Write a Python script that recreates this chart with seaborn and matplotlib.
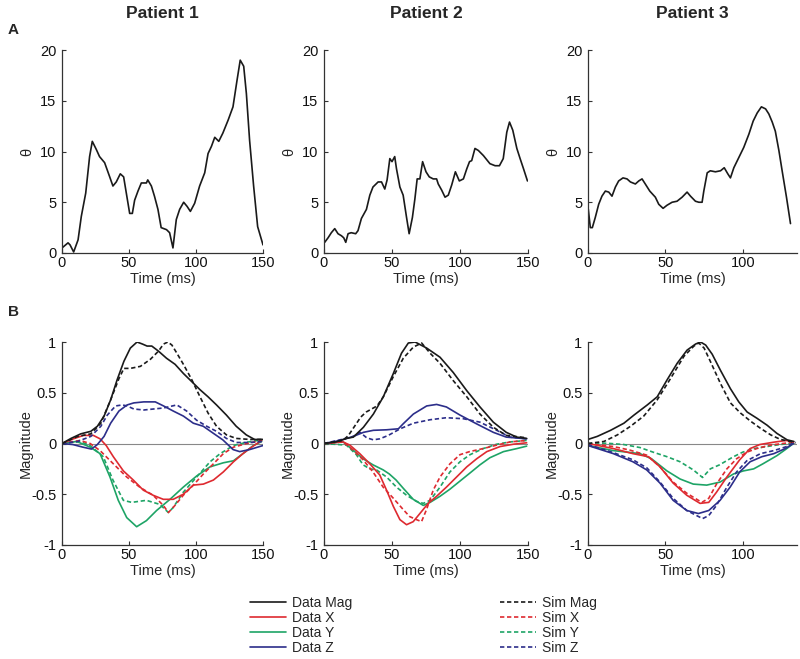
import numpy as np
import pandas as pd
import matplotlib
matplotlib.use("Agg")
import matplotlib.pyplot as plt
import seaborn as sns
from matplotlib.lines import Line2D

# ---------------- DATA ----------------
patients = ["Patient 1", "Patient 2", "Patient 3"]

# Row A : theta vs time
p1_theta_t = [0, 4.5, 6, 8.7, 12, 14.4, 17.7, 20.6, 22.6, 25.6, 28, 31.8, 35.6, 38, 40.5, 43.5, 46, 48,
              50.5, 52.5, 54.2, 56.7, 59.2, 63, 64, 66.7, 69, 71.6, 74, 78, 80.3, 82.8, 85.3, 87.8, 90.8,
              93.3, 95.8, 99, 102.7, 106.5, 109, 111.5, 114, 117, 120, 124, 127.6, 130.6, 133, 135.6,
              137.6, 140, 143, 146, 150]
p1_theta = [0.5, 1.0, 0.8, 0.1, 1.3, 3.6, 5.9, 9.5, 11, 10.2, 9.5, 8.9, 7.5, 6.6, 7, 7.8, 7.5, 5.9,
            3.9, 3.9, 5.2, 6.1, 6.9, 6.9, 7.2, 6.6, 5.6, 4.3, 2.5, 2.3, 2.0, 0.5, 3.3, 4.3, 5.0,
            4.6, 4.1, 4.9, 6.6, 7.9, 9.8, 10.5, 11.4, 11, 11.8, 13.1, 14.4, 17, 19, 18.4,
            15.7, 11.1, 6.6, 2.6, 0.8]

p2_theta_t = [0.5, 3, 5.4, 7.9, 10.3, 12.8, 14.5, 16, 17.7, 20, 23.3, 25, 27.5, 31.2, 33.7, 36, 39.8,
              42.3, 44.7, 46.4, 48.4, 50, 52, 53.3, 55.8, 58.2, 60.7, 62.6, 65, 66.8, 68.5, 70.5, 72.5,
              75, 77.4, 80.3, 82.8, 84, 86.5, 89, 91.4, 93.9, 96.6, 99.5, 102.5, 105, 107, 108.6, 111,
              113.5, 117.2, 122, 125.8, 129, 131.8, 134.4, 136.4, 138.8, 141.8, 144.2, 146.7, 149.6]
p2_theta = [1.05, 1.5, 2.0, 2.4, 1.9, 1.7, 1.5, 1.05, 1.9, 2.0, 1.9, 2.2, 3.4, 4.3, 5.7, 6.5, 7.0,
            7.0, 6.3, 7.2, 9.3, 9.0, 9.5, 8.3, 6.5, 5.7, 3.5, 1.9, 3.5, 5.3, 7.3, 7.3, 9.0,
            8.0, 7.5, 7.3, 7.3, 6.8, 6.2, 5.5, 5.7, 6.7, 8.0, 7.1, 7.3, 8.3, 9.0, 9.1, 10.3,
            10.1, 9.6, 8.8, 8.6, 8.6, 9.3, 11.9, 12.9, 12.1, 10.3, 9.3, 8.3, 7.1]

p3_theta_t = [0.2, 1.5, 2.8, 4.7, 6.9, 9, 11.2, 13.4, 15.5, 17.7, 19.8, 22.6, 25.2, 27.4, 30.6, 32.8,
              34.9, 37, 39.9, 43.5, 45.7, 48.5, 51, 54.3, 57.5, 60.8, 64, 66.2, 69.4, 71.6, 73.7, 74.8,
              77, 79, 82.3, 85.6, 88, 90.3, 92, 94.2, 97.4, 100.6, 103.9, 106.7, 109.3, 112, 114.7,
              116.8, 119, 121, 123.3, 125.4, 128.2, 130.8]
p3_theta = [4.3, 2.5, 2.5, 3.5, 4.8, 5.6, 6.1, 6.0, 5.6, 6.5, 7.1, 7.4, 7.3, 7.0, 6.8, 7.1,
            7.3, 6.8, 6.1, 5.5, 4.8, 4.4, 4.7, 5.0, 5.1, 5.5, 6.0, 5.6, 5.1, 5.0, 5.0, 6.1,
            7.9, 8.1, 8.0, 8.1, 8.4, 7.8, 7.4, 8.4, 9.4, 10.4, 11.7, 13.0, 13.8, 14.4, 14.2,
            13.7, 12.9, 12.0, 10.1, 8.1, 5.5, 2.9]

# Row B : magnitude components, patient 1
p1_dmag_t = [0, 6.7, 14, 21.5, 26.4, 31.4, 36.3, 41.2, 46.2, 51, 56, 60, 63.5, 67, 72, 78, 84.4, 90.6,
             96.8, 103, 109, 115.3, 122.7, 130, 137.5, 143.7, 150]
p1_dmag = [0, 0.05, 0.095, 0.12, 0.17, 0.27, 0.43, 0.63, 0.81, 0.94, 1.0, 0.98, 0.96, 0.96, 0.91, 0.84,
           0.78, 0.69, 0.61, 0.53, 0.46, 0.38, 0.28, 0.17, 0.085, 0.04, 0.04]
p1_smag_t = [0, 11.6, 21.5, 29, 36.3, 42.5, 46.2, 51, 58.5, 66, 72, 75.8, 79, 82, 85.7, 90.6, 96.8, 103,
             109, 115.3, 122.7, 130, 140, 150]
p1_smag = [0, 0.07, 0.095, 0.2, 0.43, 0.64, 0.74, 0.74, 0.76, 0.83, 0.91, 0.98, 1.0, 0.97, 0.89, 0.78,
           0.63, 0.46, 0.30, 0.17, 0.085, 0.05, 0.04, 0.04]
p1_dx_t = [0, 8.5, 16, 23.4, 28.4, 33, 38.3, 45.8, 53.2, 60.7, 68, 75.6, 83, 90.5, 98, 105.5, 113, 120.4,
           128, 135, 141.5, 149]
p1_dx = [0, 0.046, 0.08, 0.08, 0.046, -0.02, -0.13, -0.27, -0.36, -0.46, -0.51, -0.55, -0.55, -0.5,
         -0.41, -0.4, -0.36, -0.28, -0.18, -0.1, -0.036, 0.03]
p1_sx_t = [0, 13.4, 21, 28.4, 38.3, 48.3, 58, 68, 75.6, 79.4, 84.3, 90.5, 98, 105.5, 113, 120.4, 128,
           138, 149]
p1_sx = [0, 0.03, 0, -0.07, -0.2, -0.33, -0.43, -0.51, -0.61, -0.68, -0.61, -0.51, -0.41, -0.3, -0.2,
         -0.1, -0.036, 0, 0.03]
p1_dy_t = [0, 11, 21, 28.4, 35.8, 42, 48.3, 55.7, 63, 70.6, 80.6, 90.5, 100.5, 110.5, 120.4, 128, 135,
           142.8, 149]
p1_dy = [0, 0.02, -0.036, -0.1, -0.33, -0.56, -0.73, -0.82, -0.76, -0.66, -0.55, -0.43, -0.32, -0.23,
         -0.19, -0.17, -0.1, -0.02, 0.02]
p1_sy_t = [0, 13.4, 21, 30.8, 38, 45.8, 52, 63, 73, 79.4, 83, 90.5, 100.5, 110.5, 118, 128, 138, 149]
p1_sy = [0, 0.02, -0.02, -0.13, -0.36, -0.56, -0.58, -0.56, -0.6, -0.68, -0.63, -0.48, -0.33, -0.18,
         -0.1, -0.02, 0.013, 0.036]
p1_dz_t = [0, 8, 15.3, 22, 26.4, 31.4, 36.3, 42.5, 48.6, 53.6, 61, 69.6, 75.8, 83, 90.6, 98, 105.4, 113,
           120, 127.7, 132.6, 140, 150]
p1_dz = [0, -0.01, -0.035, -0.055, -0.01, 0.07, 0.2, 0.32, 0.38, 0.4, 0.41, 0.41, 0.37, 0.32, 0.27,
         0.2, 0.17, 0.1, 0.036, -0.06, -0.08, -0.06, -0.02]
p1_sz_t = [0, 11.6, 21.5, 29, 33.8, 40, 45, 48.6, 53.6, 61, 68.4, 75.8, 85.7, 93, 100.4, 108, 115.3,
           122.7, 130, 140, 150]
p1_sz = [0, 0.02, 0.07, 0.17, 0.28, 0.37, 0.38, 0.37, 0.34, 0.33, 0.34, 0.35, 0.38, 0.32, 0.23, 0.17,
         0.12, 0.05, 0.01, 0.01, 0.02]

# patient 2
p2_dmag_t = [0, 9, 16.5, 21.6, 29, 36.3, 43.6, 51, 57, 62, 67, 75.5, 85.3, 95, 105, 114.7, 124.5, 134,
             141.7, 149]
p2_dmag = [0, 0.016, 0.05, 0.063, 0.16, 0.29, 0.46, 0.69, 0.89, 0.99, 1.0, 0.94, 0.85, 0.7, 0.52, 0.36,
           0.21, 0.11, 0.063, 0.05]
p2_smag_t = [0, 14, 18, 22, 27, 31, 35, 39, 43.6, 51, 58.3, 65.7, 71.8, 78, 85.3, 95, 105, 114.7, 124.5,
             134, 149]
p2_smag = [0, 0.03, 0.08, 0.16, 0.26, 0.31, 0.34, 0.37, 0.46, 0.66, 0.84, 0.95, 0.99, 0.89, 0.79, 0.62,
           0.46, 0.29, 0.16, 0.08, 0.056]
p2_dx_t = [0, 14, 19, 26.3, 33.7, 41, 46, 51, 55.8, 60.7, 65.6, 70.5, 76.6, 82.8, 90, 97.5, 105, 112.3,
           119.7, 129.5, 139.3, 149]
p2_dx = [0, 0.016, -0.016, -0.1, -0.2, -0.31, -0.46, -0.62, -0.75, -0.80, -0.77, -0.69, -0.59, -0.52,
         -0.43, -0.33, -0.23, -0.15, -0.08, -0.03, -0.007, 0.007]
p2_sx_t = [0, 14, 21.4, 28.7, 36, 43.5, 51, 58.2, 63, 68, 71.7, 75.4, 80.3, 85.3, 92.6, 100, 107, 117,
           127, 137, 149]
p2_sx = [0, 0.016, -0.065, -0.16, -0.28, -0.43, -0.54, -0.65, -0.72, -0.75, -0.77, -0.65, -0.46,
         -0.33, -0.2, -0.11, -0.08, -0.05, -0.016, 0.016, 0.03]
p2_dy_t = [0, 14, 21.4, 28.7, 36, 43.5, 48, 53, 58.2, 65.6, 73, 78, 85.3, 92.6, 100, 107.4, 114.7, 122,
           132, 141.8, 149]
p2_dy = [0, 0.016, -0.065, -0.15, -0.21, -0.26, -0.3, -0.36, -0.44, -0.55, -0.61, -0.58, -0.52, -0.45,
         -0.37, -0.29, -0.21, -0.14, -0.08, -0.05, -0.026]
p2_sy_t = [0, 16.5, 23.8, 28.7, 33.7, 38.6, 46, 53.3, 60.7, 68, 73, 78, 85.3, 92.6, 100, 107.4, 117,
           127, 137, 149]
p2_sy = [0, -0.016, -0.11, -0.21, -0.25, -0.26, -0.33, -0.43, -0.51, -0.57, -0.59, -0.56, -0.43, -0.28,
         -0.18, -0.11, -0.05, -0.007, 0.016, 0.03]
p2_dz_t = [0, 11.8, 21.6, 29, 36.3, 46, 54.7, 58.3, 65.7, 75.5, 82.8, 90, 100, 112, 124.5, 134, 149]
p2_dz = [0, 0.03, 0.07, 0.11, 0.13, 0.135, 0.145, 0.195, 0.29, 0.37, 0.385, 0.36, 0.28, 0.195, 0.11,
         0.063, 0.046]
p2_sz_t = [0, 11.8, 21.6, 26.5, 31.4, 36.3, 41, 47.3, 56, 65.7, 78, 90, 102.5, 114.7, 127, 136.8, 149]
p2_sz = [0, 0.036, 0.07, 0.11, 0.056, 0.036, 0.046, 0.08, 0.145, 0.2, 0.234, 0.254, 0.244, 0.21, 0.13,
         0.063, 0.046]

# patient 3
p3_dmag_t = [0, 6, 14.6, 23.2, 29.7, 38.3, 44.7, 51.2, 57.6, 64, 69.5, 72.7, 76, 80.2, 85.6, 92, 97.4,
             102.8, 109, 115.7, 122, 128.6, 133]
p3_dmag = [0.04, 0.07, 0.13, 0.2, 0.28, 0.38, 0.46, 0.63, 0.79, 0.92, 0.98, 1.0, 0.97, 0.88, 0.72, 0.54,
           0.41, 0.31, 0.25, 0.18, 0.1, 0.036, 0.02]
p3_smag_t = [0, 10.3, 19, 27.5, 36, 44.7, 53.3, 62, 68.4, 71.6, 75, 79, 85.6, 92, 98.5, 105, 111.4, 118,
             124.3, 131, 134]
p3_smag = [0, 0.02, 0.085, 0.17, 0.27, 0.43, 0.64, 0.86, 0.96, 0.99, 0.94, 0.81, 0.59, 0.40, 0.3, 0.22,
           0.15, 0.085, 0.04, 0.02, 0.003]
p3_dx_t = [0, 16.4, 29, 39, 46.5, 55, 63.8, 72.4, 78, 83, 89.7, 98, 104.7, 111, 120, 128, 132.7]
p3_dx = [0, -0.05, -0.1, -0.13, -0.23, -0.39, -0.51, -0.59, -0.58, -0.48, -0.33, -0.16, -0.05, -0.01,
         0.013, 0.03, 0.013]
p3_sx_t = [0, 16.4, 27, 38, 46.5, 55, 63.8, 73.5, 78, 83, 89.7, 96, 102.6, 109, 117.7, 126, 134]
p3_sx = [0, -0.03, -0.065, -0.115, -0.23, -0.38, -0.49, -0.58, -0.54, -0.4, -0.25, -0.15, -0.085,
         -0.05, -0.016, 0, 0.016]
p3_dy_t = [0, 16.4, 33.6, 41, 51, 59.5, 68, 76.7, 85.3, 94, 100.4, 107, 113, 122, 128.4, 132.7]
p3_dy = [-0.02, -0.07, -0.1, -0.15, -0.27, -0.35, -0.40, -0.41, -0.38, -0.30, -0.27, -0.25, -0.2, -0.12,
         -0.05, 0]
p3_sy_t = [0, 12, 23, 33.6, 42, 51, 59.5, 68, 74, 79, 85, 94, 100, 107, 115.5, 124, 132.7]
p3_sy = [0, 0.003, -0.01, -0.04, -0.085, -0.13, -0.18, -0.26, -0.335, -0.25, -0.21, -0.13, -0.085,
         -0.05, -0.03, -0.01, 0.003]
p3_dz_t = [0, 16.4, 29, 37.9, 46.5, 55, 63.8, 71.3, 78, 85.3, 91.8, 98, 104.7, 112.3, 120, 127.4, 132.7]
p3_dz = [-0.02, -0.1, -0.18, -0.26, -0.39, -0.56, -0.66, -0.69, -0.66, -0.56, -0.43, -0.28, -0.18,
         -0.13, -0.1, -0.05, 0]
p3_sz_t = [0, 16.4, 29, 38, 46.5, 55, 63.8, 74, 78, 83, 89.7, 96, 102.6, 111.4, 120, 128.4, 134]
p3_sz = [-0.01, -0.09, -0.16, -0.24, -0.38, -0.54, -0.66, -0.74, -0.71, -0.61, -0.43, -0.28, -0.17,
         -0.1, -0.07, -0.03, 0.016]

theta_series = [(p1_theta_t, p1_theta), (p2_theta_t, p2_theta), (p3_theta_t, p3_theta)]
mag_series = [
    {"Data Mag": (p1_dmag_t, p1_dmag), "Sim Mag": (p1_smag_t, p1_smag),
     "Data X": (p1_dx_t, p1_dx), "Sim X": (p1_sx_t, p1_sx),
     "Data Y": (p1_dy_t, p1_dy), "Sim Y": (p1_sy_t, p1_sy),
     "Data Z": (p1_dz_t, p1_dz), "Sim Z": (p1_sz_t, p1_sz)},
    {"Data Mag": (p2_dmag_t, p2_dmag), "Sim Mag": (p2_smag_t, p2_smag),
     "Data X": (p2_dx_t, p2_dx), "Sim X": (p2_sx_t, p2_sx),
     "Data Y": (p2_dy_t, p2_dy), "Sim Y": (p2_sy_t, p2_sy),
     "Data Z": (p2_dz_t, p2_dz), "Sim Z": (p2_sz_t, p2_sz)},
    {"Data Mag": (p3_dmag_t, p3_dmag), "Sim Mag": (p3_smag_t, p3_smag),
     "Data X": (p3_dx_t, p3_dx), "Sim X": (p3_sx_t, p3_sx),
     "Data Y": (p3_dy_t, p3_dy), "Sim Y": (p3_sy_t, p3_sy),
     "Data Z": (p3_dz_t, p3_dz), "Sim Z": (p3_sz_t, p3_sz)},
]
xmax = [150, 150, 135]
xticks = [[0, 50, 100, 150], [0, 50, 100, 150], [0, 50, 100]]

# ---------------- STYLE ----------------
sns.set_style("ticks")
plt.rcParams["font.family"] = ["Liberation Sans", "DejaVu Sans"]

COL = {"Mag": "#1a1a1a", "X": "#de2a30", "Y": "#1ea466", "Z": "#2c2e8a"}
DASH = (0, (2.6, 1.6))
order = ["Data Mag", "Data X", "Data Y", "Data Z", "Sim Mag", "Sim X", "Sim Y", "Sim Z"]
draw_order = ["Sim Y", "Data Y", "Sim X", "Data X", "Sim Z", "Data Z", "Sim Mag", "Data Mag"]

fig = plt.figure(figsize=(8, 6.59), dpi=100)
lefts = [62 / 800, 324 / 800, 588 / 800]
widths = [201 / 800, 204 / 800, 209 / 800]
top_b, bot_b, h = 1 - 253 / 659, 1 - 545 / 659, 203 / 659

AXC = "#333333"


def style_axes(ax):
    sns.despine(ax=ax)
    for s in ["left", "bottom"]:
        ax.spines[s].set_color(AXC)
        ax.spines[s].set_linewidth(0.9)
    ax.tick_params(direction="in", length=3, width=0.8, color=AXC, labelsize=10.5,
                   labelcolor="#111111")
    ax.tick_params(axis="y", pad=4)
    ax.tick_params(axis="x", pad=2.5)


for i in range(3):
    ax = fig.add_axes([lefts[i], top_b, widths[i], h])
    t, v = theta_series[i]
    sns.lineplot(x=t, y=v, ax=ax, color="#1a1a1a", lw=1.2, estimator=None, sort=False)
    ax.set_xlim(0, xmax[i])
    ax.set_ylim(0, 20)
    ax.set_xticks(xticks[i])
    ax.set_yticks([0, 5, 10, 15, 20])
    ax.set_xlabel("Time (ms)", fontsize=10.5, labelpad=1)
    ax.set_ylabel("θ", fontsize=10.5, labelpad=4)
    style_axes(ax)
    fig.text(lefts[i] + widths[i] / 2, 1 - 14 / 659, patients[i], ha="center", va="center",
             fontsize=12.5, fontweight="bold")

handles = {}
for i in range(3):
    ax = fig.add_axes([lefts[i], bot_b, widths[i], h])
    ax.axhline(0, color="#888888", lw=0.8, zorder=0)
    for name in draw_order:
        t, v = mag_series[i][name]
        comp = name.split()[1]
        ls = "-" if name.startswith("Data") else DASH
        sns.lineplot(x=t, y=v, ax=ax, color=COL[comp], lw=1.2, linestyle=ls,
                     estimator=None, sort=False)
        handles[name] = Line2D([], [], color=COL[comp], lw=1.2, linestyle=ls)
    ax.set_xlim(0, xmax[i])
    ax.set_ylim(-1, 1)
    ax.set_xticks(xticks[i])
    ax.set_yticks([-1, -0.5, 0, 0.5, 1])
    ax.set_yticklabels(["-1", "-0.5", "0", "0.5", "1"])
    ax.set_xlabel("Time (ms)", fontsize=10.5, labelpad=1)
    ax.set_ylabel("Magnitude", fontsize=10.5, labelpad=-1)
    style_axes(ax)

fig.text(8 / 800, 1 - 30 / 659, "A", fontsize=11, fontweight="bold", ha="left", va="center")
fig.text(8 / 800, 1 - 312 / 659, "B", fontsize=11, fontweight="bold", ha="left", va="center")

leg_kw = dict(frameon=False, fontsize=10, handlelength=2.6, handletextpad=0.4,
              labelspacing=0.08, borderpad=0, borderaxespad=0, loc="upper left")
l1 = fig.legend([handles[n] for n in order[:4]], order[:4],
                bbox_to_anchor=(250 / 800, 1 - 596 / 659), **leg_kw)
l2 = fig.legend([handles[n] for n in order[4:]], order[4:],
                bbox_to_anchor=(500 / 800, 1 - 596 / 659), **leg_kw)

fig.savefig("out.png", dpi=100)
